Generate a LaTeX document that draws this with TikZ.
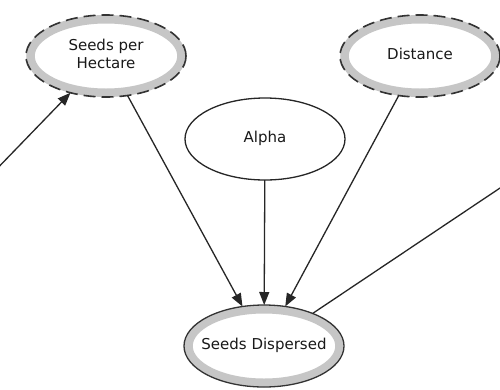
\documentclass[tikz,border=0pt]{standalone}
\usepackage{fontspec}
\setmainfont{DejaVu Sans}
\usetikzlibrary{shapes.geometric,arrows.meta}

% centred text of zero width, so the ellipse keeps its set size
\newcommand{\ctrtext}[1]{\makebox[0pt]{\begin{tabular}{@{}c@{}}#1\end{tabular}}}

\tikzset{
  var/.style={shape=ellipse, minimum width=160pt, minimum height=82pt,
    inner sep=0pt, outer sep=0pt, font=\fontsize{15}{18.5}\selectfont,
    text=black!90},
  plainvar/.style={var, draw=black!85, line width=1.3pt},
  band/.style={draw=gray!45, line width=8.5pt},
  dashrim/.style={draw=black!80, line width=1.6pt, dash pattern=on 12pt off 6pt},
  solidrim/.style={draw=black!80, line width=1.3pt},
  link/.style={draw=black!85, line width=1.3pt},
  arrowlink/.style={link, -{Triangle[length=13pt,width=10pt]}},
}

\begin{document}
\begin{tikzpicture}[x=1pt,y=-1pt]
  \useasboundingbox (0,0) rectangle (500,389);
  \fill[white] (0,0) rectangle (500,389);

  % variables
  \node[var] (sph) at (106,56) {\ctrtext{Seeds per\\Hectare}};
  \node[var] (dist) at (420,56) {\ctrtext{Distance}};
  \node[plainvar] (alpha) at (265,139) {\ctrtext{Alpha}};
  \node[var] (disp) at (264,346) {\ctrtext{Seeds Dispersed}};

  % grey bands with dashed or solid rims
  \draw[band] (sph.center) ellipse (75.5pt and 36.75pt);
  \draw[dashrim] (sph.center) ellipse (80pt and 41pt);
  \draw[band] (dist.center) ellipse (75.5pt and 36.75pt);
  \draw[dashrim] (dist.center) ellipse (80pt and 41pt);
  \draw[band] (disp.center) ellipse (75.5pt and 36.75pt);
  \draw[solidrim] (disp.center) ellipse (80pt and 41pt);

  % loose ends of links leaving the picture
  \coordinate (inleft) at (-12,178);
  \coordinate (outright) at (512,180);

  % links
  \draw[arrowlink] (inleft) -- (sph);
  \draw[arrowlink] (sph) -- (disp);
  \draw[arrowlink] (alpha) -- (disp);
  \draw[arrowlink] (dist) -- (disp);
  \draw[link] (disp) -- (outright);
\end{tikzpicture}
\end{document}
